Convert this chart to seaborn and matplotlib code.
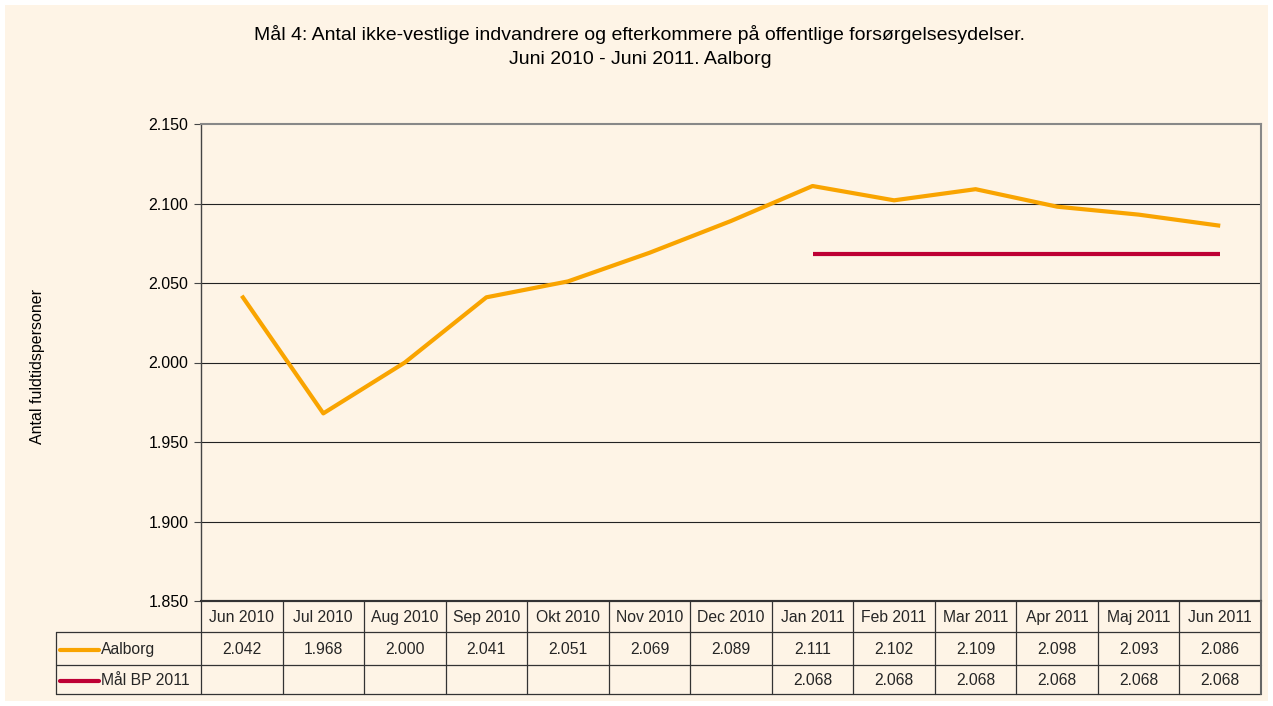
import matplotlib
matplotlib.use("Agg")
import matplotlib.pyplot as plt
import seaborn as sns
import pandas as pd
import numpy as np
from matplotlib.lines import Line2D
from matplotlib.patches import Rectangle
import matplotlib.transforms as mtrans

sns.set_theme(style="white")
plt.rcParams['font.family'] = ['Liberation Sans', 'DejaVu Sans']

months = ["Jun 2010", "Jul 2010", "Aug 2010", "Sep 2010", "Okt 2010", "Nov 2010",
          "Dec 2010", "Jan 2011", "Feb 2011", "Mar 2011", "Apr 2011", "Maj 2011", "Jun 2011"]
aalborg = [2042, 1968, 2000, 2041, 2051, 2069, 2089, 2111, 2102, 2109, 2098, 2093, 2086]
maal = [None, None, None, None, None, None, None, 2068, 2068, 2068, 2068, 2068, 2068]
series_names = ["Aalborg", "Mål BP 2011"]
yticks = [1850, 1900, 1950, 2000, 2050, 2100, 2150]

title = ("Mål 4: Antal ikke-vestlige indvandrere og efterkommere på offentlige forsørgelsesydelser.\n"
         "Juni 2010 - Juni 2011. Aalborg")
ylabel = "Antal fuldtidspersoner"

colors = {"Aalborg": "#F9A400", "Mål BP 2011": "#BE0034"}
bg = "#FEF4E6"

W, H = 1273, 706
fig = plt.figure(figsize=(W / 100, H / 100), dpi=100)
fig.patch.set_facecolor("white")
fig.patches.append(Rectangle((5 / W, 5 / H), (W - 10) / W, (H - 10) / H,
                             transform=fig.transFigure, facecolor=bg, edgecolor="none", zorder=-10))

def fx(px):
    return px / W

def fy(py):
    return 1 - py / H

left, right, top, bottom = 201, 1261, 124, 601
ax = fig.add_axes([fx(left), fy(bottom), fx(right) - fx(left), fy(top) - fy(bottom)])
ax.set_facecolor(bg)

rows = []
for i, m in enumerate(months):
    rows.append({"x": i, "value": aalborg[i], "series": "Aalborg"})
    if maal[i] is not None:
        rows.append({"x": i, "value": maal[i], "series": "Mål BP 2011"})
df = pd.DataFrame(rows)

sns.lineplot(data=df, x="x", y="value", hue="series", palette=colors, ax=ax,
             linewidth=3.0, legend=False, zorder=5)
for l in ax.lines:
    l.set_solid_capstyle("butt")

ax.set_xlim(-0.5, len(months) - 0.5)
ax.set_ylim(yticks[0], yticks[-1])
ax.set_yticks(yticks)
ax.set_yticklabels([f"{v/1000:.3f}" for v in yticks], fontsize=11.5, color="black")
ax.set_xticks([])
ax.set_xlabel("")
ax.set_ylabel("")
ax.tick_params(axis="y", which="both", left=True, length=5, width=0.8, color="#444444", pad=4)
for v in yticks[1:-1]:
    ax.axhline(v, color="#222222", linewidth=0.8, zorder=1)

for s in ["left"]:
    ax.spines[s].set_color("#444444")
    ax.spines[s].set_linewidth(1.0)
for s in ["top", "right"]:
    ax.spines[s].set_color("#888888")
    ax.spines[s].set_linewidth(1.5)
ax.spines["bottom"].set_color("#222222")
ax.spines["bottom"].set_linewidth(1.5)

title_lines = title.split("\n")
fig.text(fx(640), fy(35), title_lines[0], ha="center", va="center", fontsize=14, color="black")
fig.text(fx(640), fy(60), title_lines[1], ha="center", va="center", fontsize=14, color="black")
fig.text(fx(38), fy(366), ylabel, rotation=90, ha="center", va="center", fontsize=11.5, color="black")

# data table
blend = mtrans.blended_transform_factory(ax.transData, fig.transFigure)
row_y = [601, 632, 665, 694]
tleft = 56
lc = "#333333"
fig.add_artist(Line2D([fx(left), fx(right)], [fy(row_y[0])] * 2, transform=fig.transFigure, color=lc, lw=1.5))
for yy in row_y[1:]:
    fig.add_artist(Line2D([fx(tleft), fx(right)], [fy(yy)] * 2, transform=fig.transFigure, color=lc, lw=0.9))
fig.add_artist(Line2D([fx(tleft)] * 2, [fy(row_y[1]), fy(row_y[3])], transform=fig.transFigure, color=lc, lw=0.9))
for i in range(len(months) + 1):
    fig.add_artist(Line2D([i - 0.5] * 2, [fy(row_y[0]), fy(row_y[3])], transform=blend,
                          color=lc if i < len(months) else "#666666", lw=0.9 if i < len(months) else 1.5))

def fmt(v):
    return f"{v/1000:.3f}"

mids = [(row_y[k] + row_y[k + 1]) / 2 + 1 for k in range(3)]
for i, m in enumerate(months):
    fig.text(i, fy(mids[0]), m, transform=blend, ha="center", va="center", fontsize=11.3)
    fig.text(i, fy(mids[1]), fmt(aalborg[i]), transform=blend, ha="center", va="center", fontsize=11.3)
    if maal[i] is not None:
        fig.text(i, fy(mids[2]), fmt(maal[i]), transform=blend, ha="center", va="center", fontsize=11.3)

for k, name in enumerate(series_names):
    yy = fy(mids[k + 1])
    fig.add_artist(Line2D([fx(60), fx(99)], [yy, yy], transform=fig.transFigure,
                          color=colors[name], lw=3.0, solid_capstyle="round"))
    fig.text(fx(101), yy, name, ha="left", va="center", fontsize=11.3)

fig.savefig("out.png", dpi=100, facecolor=fig.get_facecolor())
